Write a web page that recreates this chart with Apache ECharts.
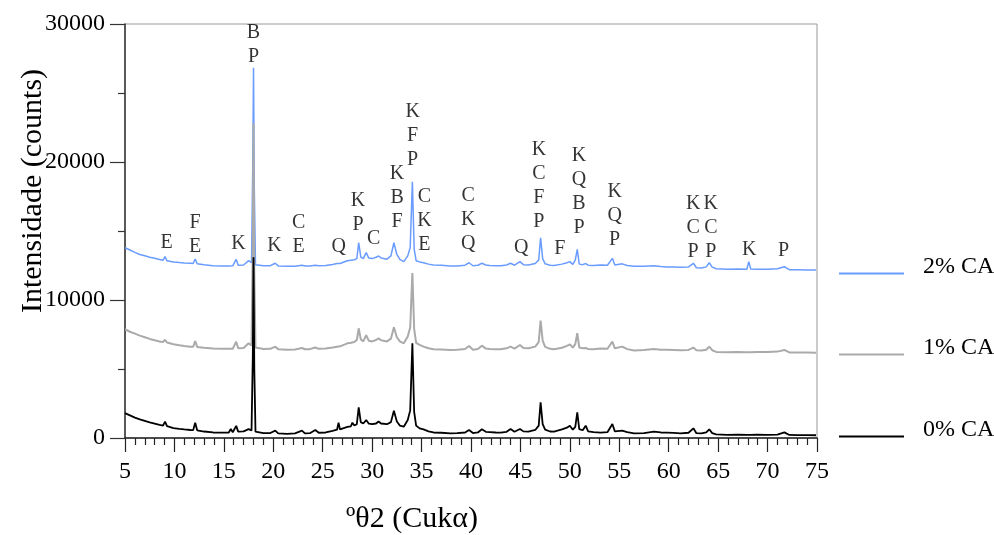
<!DOCTYPE html>
<html><head><meta charset="utf-8">
<script src="https://cdn.jsdelivr.net/npm/echarts@6/dist/echarts.min.js"></script>
<style>html,body{margin:0;padding:0;background:#fff}#c{width:994px;height:535px}</style>
</head><body><div id="c"></div>
<script>
// 2theta positions (degrees)
const twoTheta = [5.0,5.5,6.0,6.5,7.0,7.5,8.0,8.5,8.85,9.05,9.25,9.9,10.5,11.0,11.6,11.9,12.1,12.3,13.0,13.9,14.8,15.5,15.7,15.9,16.1,16.25,16.45,17.0,17.5,17.8,17.93,18.0,18.08,18.2,19.0,19.7,20.2,20.5,21.4,22.2,22.9,23.2,23.7,24.25,24.6,25.3,26.0,26.45,26.6,26.75,27.5,27.85,28.0,28.2,28.45,28.64,28.85,29.1,29.4,29.65,30.0,30.4,30.65,30.9,31.5,31.9,32.2,32.5,32.8,33.2,33.6,33.85,34.07,34.25,34.45,34.8,35.2,35.7,36.2,37.0,37.9,38.6,39.4,39.8,40.2,40.7,41.1,41.5,41.9,42.5,43.0,43.6,44.0,44.4,44.95,45.3,45.8,46.5,46.85,47.04,47.25,47.5,48.0,48.4,49.2,49.7,50.0,50.3,50.55,50.75,50.95,51.3,51.6,51.85,52.4,53.1,53.8,54.3,54.55,55.3,55.8,56.5,57.5,58.5,59.2,59.8,60.5,61.2,62.0,62.5,62.8,63.3,63.8,64.1,64.4,64.8,65.9,67.0,67.9,68.1,68.3,68.9,70.0,71.0,71.7,72.2,73.0,74.0,74.9];
// 0% CA (counts)
const ca0 = [1800,1640,1480,1350,1240,1130,1040,950,900,1180,860,720,660,620,580,570,1110,560,470,400,390,400,650,420,450,880,460,480,640,550,6000,13100,5000,460,350,360,530,330,300,330,530,340,350,580,380,400,520,600,1110,620,800,850,1110,900,1000,2220,1150,1050,1300,1050,1000,1050,1200,1050,1000,1150,1980,1200,900,820,1300,2000,6860,1900,900,700,620,480,400,380,340,350,400,580,360,400,630,450,430,400,390,450,650,450,650,480,460,580,900,2590,1000,600,470,460,630,750,890,600,800,1860,650,560,890,480,430,390,420,1010,480,530,420,340,360,460,400,390,370,340,380,700,350,340,400,630,350,260,220,240,230,240,230,240,230,250,410,220,210,210,200];
// 1% CA (counts)
const ca1 = [7880,7700,7560,7420,7300,7180,7080,7000,6950,7120,6920,6800,6720,6670,6620,6610,7030,6600,6540,6480,6460,6460,6560,6470,6480,6980,6500,6520,6860,6700,14000,22800,12000,6560,6450,6460,6620,6440,6400,6420,6520,6430,6440,6560,6460,6480,6560,6620,6740,6640,6860,6900,7000,6950,7100,7950,7150,7000,7460,7050,7000,7100,7220,7080,7000,7200,8020,7300,7000,6860,7350,8000,11950,7900,6900,6750,6620,6500,6430,6420,6380,6390,6450,6670,6400,6450,6690,6480,6450,6440,6430,6500,6620,6480,6740,6520,6500,6620,6950,8500,7050,6600,6460,6430,6540,6680,6790,6550,6800,7590,6560,6500,6530,6450,6430,6480,6470,6980,6500,6620,6440,6340,6380,6450,6400,6400,6380,6350,6380,6550,6360,6340,6400,6620,6360,6240,6210,6230,6220,6230,6220,6230,6230,6260,6380,6200,6190,6190,6180];
// 2% CA (counts)
const ca2 = [13790,13620,13450,13300,13200,13100,13020,12930,12880,13140,12840,12760,12720,12690,12660,12640,12970,12630,12560,12480,12470,12470,12580,12480,12500,12950,12510,12540,12850,12700,20000,26830,18000,12560,12480,12490,12660,12470,12440,12450,12520,12460,12470,12520,12480,12500,12580,12640,12700,12650,12840,12880,12950,12920,13000,14150,13100,13000,13430,13050,13000,13100,13190,13050,12960,13200,14150,13300,12950,12780,13200,13800,18570,13700,12850,12760,12700,12600,12540,12520,12470,12460,12520,12700,12480,12520,12660,12540,12500,12480,12480,12540,12660,12520,12780,12560,12540,12640,12900,14510,13000,12620,12520,12500,12600,12700,12780,12580,12900,13670,12600,12560,12640,12520,12500,12540,12520,13020,12540,12620,12500,12440,12450,12480,12430,12400,12390,12380,12400,12660,12340,12320,12400,12700,12380,12260,12220,12240,12230,12780,12240,12220,12230,12260,12410,12200,12190,12180,12170];
const seriesNames = ['2% CA','1% CA','0% CA'];
// phase labels: position (2theta, counts of last letter centre) and text
const peakX = [9.22,12.09,16.48,18.0,20.12,22.56,26.61,28.57,30.15,32.52,34.10,35.29,39.71,45.08,46.87,48.99,50.92,54.53,62.47,64.26,68.14,71.62];
const peakY = [14150,13860,14110,27630,13910,13860,13860,15430,14470,15670,20190,13980,14060,13820,15670,13750,15270,14350,13500,13500,13620,13570];
const peakText = ['E','F\nE','K','B\nP','K','C\nE','Q','K\nP','C','K\nB\nF','K\nF\nP','C\nK\nE','C\nK\nQ','Q','K\nC\nF\nP','F','K\nQ\nB\nP','K\nQ\nP','K\nC\nP','K\nC\nP','K','P'];
const xTitle = 'ºθ2 (Cukα)';
const yTitle = 'Intensidade (counts)';

const FF = 'Liberation Serif, Times New Roman, serif';
const chart = echarts.init(document.getElementById('c'));
const mk = arr => twoTheta.map((x,i)=>[x,arr[i]]);
const colors = ['#6a9cff','#aaaaaa','#000000'];
const widths = [1.5,2,1.8];
const datas = [ca2, ca1, ca0];
const lineSeries = seriesNames.map((n,i)=>({
  name:n, type:'line', data:mk(datas[i]), symbol:'none', showSymbol:false,
  color:colors[i], lineStyle:{color:colors[i], width:widths[i]}, animation:false, z:2+i
}));
const legendTops = [250,331,413];
const legends = seriesNames.map((n,i)=>({
  data:[n], left:834, top:legendTops[i], itemWidth:65, itemHeight:2, icon:'rect', selectedMode:false,
  formatter:'{t|{name}}',
  textStyle:{fontFamily:FF, fontSize:24, color:'#000',
    rich:{t:{fontFamily:FF, fontSize:24, color:'#000', padding:[0,0,13,14]}}}
}));
chart.setOption({
  animation:false,
  backgroundColor:'#fff',
  grid:{left:125, top:24, width:692, height:414, show:true, borderColor:'#999', borderWidth:1, backgroundColor:'transparent'},
  legend: legends,
  xAxis:{type:'value', min:5, max:75, interval:5,
    axisLine:{show:true, onZero:false, lineStyle:{color:'#222', width:1.5}},
    axisTick:{show:true, length:14, lineStyle:{color:'#222', width:1.2}},
    minorTick:{show:true, splitNumber:5, length:7, lineStyle:{color:'#222', width:1.2}},
    splitLine:{show:false}, minorSplitLine:{show:false},
    axisLabel:{fontFamily:FF, fontSize:24, color:'#000', margin:22}},
  yAxis:{type:'value', min:0, max:30000, interval:10000,
    axisLine:{show:true, lineStyle:{color:'#333', width:1.5}},
    axisTick:{show:true, length:15, lineStyle:{color:'#333', width:1.2}},
    minorTick:{show:true, splitNumber:2, length:7, lineStyle:{color:'#333', width:1.2}},
    splitLine:{show:false}, minorSplitLine:{show:false},
    axisLabel:{fontFamily:FF, fontSize:24, color:'#000', margin:20, formatter: v => String(v)}},
  graphic:[
    {type:'text', x:33, y:191, rotation:Math.PI/2, style:{text:yTitle, fontFamily:FF, fontSize:30, fill:'#000', align:'center', verticalAlign:'middle'}},
    {type:'text', x:412, y:519, style:{text:xTitle, fontFamily:FF, fontSize:30, fill:'#000', align:'center', verticalAlign:'middle'}}
  ],
  series: lineSeries.concat([{
    type:'scatter', silent:true, symbolSize:0, itemStyle:{color:'#000'}, z:10,
    data: peakX.map((x,i)=>({value:[x,peakY[i]], label:{formatter:peakText[i]}})),
    label:{show:true, position:'top', distance:0, offset:[0,12], fontFamily:FF, fontSize:20, lineHeight:24, color:'#000', align:'center'}
  }])
});
</script></body></html>
